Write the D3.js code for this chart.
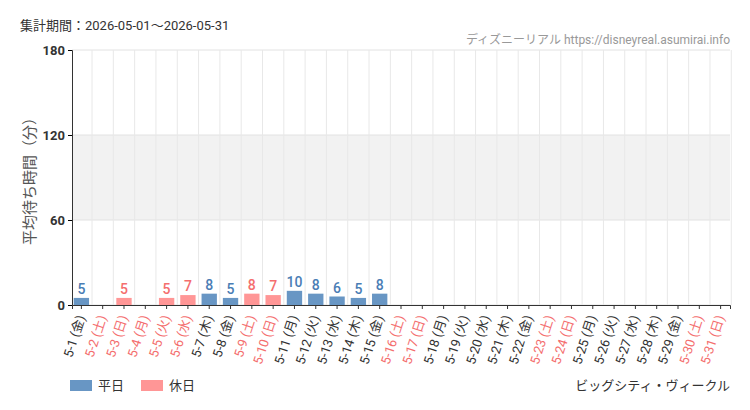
<!DOCTYPE html>
<html><head><meta charset="utf-8">
<script src="https://cdn.jsdelivr.net/npm/d3@7"></script>
<style>body{margin:0;background:#fff}text{font-family:Roboto,"Noto Sans CJK JP",sans-serif}</style>
</head><body><div id="chart"></div>
<script>
const days = ["5-1","5-2","5-3","5-4","5-5","5-6","5-7","5-8","5-9","5-10","5-11","5-12","5-13","5-14","5-15","5-16","5-17","5-18","5-19","5-20","5-21","5-22","5-23","5-24","5-25","5-26","5-27","5-28","5-29","5-30","5-31"];
const weekdays = ["金","土","日","月","火","水","木","金","土","日","月","火","水","木","金","土","日","月","火","水","木","金","土","日","月","火","水","木","金","土","日"];
const holiday = [0,1,1,1,1,1,0,0,1,1,0,0,0,0,0,1,1,0,0,0,0,0,1,1,0,0,0,0,0,1,1];
const waits = [5,null,5,null,5,7,8,5,8,7,10,8,6,5,8,null,null,null,null,null,null,null,null,null,null,null,null,null,null,null,null];
const yTicks = [0,60,120,180];

const W = 750, H = 410, m = {top:50, right:20, bottom:105, left:72};
const w = W - m.left - m.right, h = H - m.top - m.bottom;
const blue = "#6896c4", pink = "#ff9696", blueT = "#4a7db5", pinkT = "#f46e6e";

const svg = d3.select("#chart").append("svg").attr("width", W).attr("height", H);
const g = svg.append("g").attr("transform", `translate(${m.left},${m.top})`);

const x = d3.scaleBand().domain(days).range([0, w]).paddingInner(0.28).paddingOuter(0.08);
const y = d3.scaleLinear().domain([0, 180]).range([h, 0]);

// background band 60-120
g.append("rect").attr("x", 0).attr("width", w).attr("y", y(120)).attr("height", y(60) - y(120)).attr("fill", "#f2f2f2");
// grid
g.selectAll(".hg").data(yTicks).enter().append("line")
  .attr("x1", 0).attr("x2", w).attr("y1", d => y(d)).attr("y2", d => y(d)).attr("stroke", "#e2e2e2");
g.selectAll(".vg").data(days).enter().append("line")
  .attr("x1", d => x(d) + x.bandwidth() + x.step() * x.paddingInner() / 2)
  .attr("x2", d => x(d) + x.bandwidth() + x.step() * x.paddingInner() / 2)
  .attr("y1", 0).attr("y2", h).attr("stroke", "#e8e8e8");

// y axis
const ya = g.append("g").call(d3.axisLeft(y).tickValues(yTicks).tickSize(4));
ya.select(".domain").attr("stroke", "#333");
ya.selectAll("text").attr("font-size", 13).attr("fill", "#333").attr("font-weight", "bold");
svg.append("text").attr("transform", `translate(35,${m.top + h / 2}) rotate(-90)`)
  .attr("text-anchor", "middle").attr("font-size", 15).attr("fill", "#555").text("平均待ち時間（分）");

// x axis
const xa = g.append("g").attr("transform", `translate(0,${h})`).call(d3.axisBottom(x).tickSize(4).tickFormat(""));
xa.select(".domain").attr("stroke", "#333");
xa.selectAll("line").attr("stroke", "#333");
g.selectAll(".xl").data(days).enter().append("text")
  .attr("transform", d => `translate(${x(d) + x.bandwidth() / 2 + 4},${h + 12}) rotate(-72)`)
  .attr("text-anchor", "end").attr("font-size", 13)
  .attr("fill", (d, i) => holiday[i] ? pinkT : "#333")
  .text((d, i) => `${d} (${weekdays[i]})`);

// bars
const data = days.map((d, i) => ({d, v: waits[i], hol: holiday[i]})).filter(e => e.v != null);
g.selectAll(".bar").data(data).enter().append("rect")
  .attr("x", e => x(e.d)).attr("width", x.bandwidth())
  .attr("y", e => y(e.v)).attr("height", e => h - y(e.v))
  .attr("fill", e => e.hol ? pink : blue);
g.selectAll(".val").data(data).enter().append("text")
  .attr("x", e => x(e.d) + x.bandwidth() / 2).attr("y", e => y(e.v) - 4)
  .attr("text-anchor", "middle").attr("font-size", 14).attr("font-weight", "500")
  .attr("fill", e => e.hol ? pinkT : blueT).text(e => e.v);

// titles
svg.append("text").attr("x", 20).attr("y", 30).attr("font-size", 13).attr("fill", "#333")
  .text("集計期間：2026-05-01～2026-05-31");
svg.append("text").attr("x", 730).attr("y", 44).attr("text-anchor", "end").attr("font-size", 12)
  .attr("fill", "#999").text("ディズニーリアル https://disneyreal.asumirai.info");

// legend
const leg = [["平日", blue], ["休日", pink]];
leg.forEach((l, i) => {
  svg.append("rect").attr("x", 70 + i * 71).attr("y", 380).attr("width", 22).attr("height", 11).attr("fill", l[1]);
  svg.append("text").attr("x", 98 + i * 71).attr("y", 390).attr("font-size", 13).attr("fill", "#333").text(l[0]);
});
svg.append("text").attr("x", 730).attr("y", 390).attr("text-anchor", "end").attr("font-size", 13)
  .attr("fill", "#333").text("ビッグシティ・ヴィークル");
</script></body></html>
